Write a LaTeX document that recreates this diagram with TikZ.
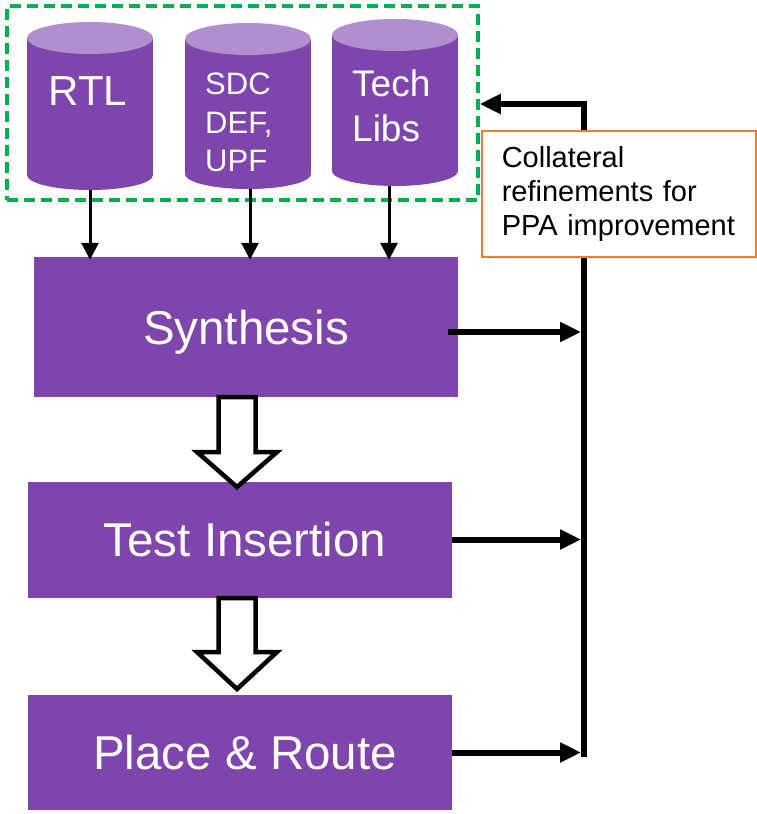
\documentclass[tikz,border=0pt]{standalone}
\usepackage{fontspec}
\setmainfont{Liberation Sans}
\usetikzlibrary{arrows.meta,calc}
\definecolor{drumbody}{RGB}{126,70,172}
\definecolor{drumtop}{RGB}{177,142,206}
\definecolor{groupgreen}{RGB}{0,176,80}
\definecolor{noteorange}{RGB}{237,125,49}

% draws a database drum: centre x, top ellipse y, bottom ellipse y
\newcommand\drawdrum[3]{%
  \fill[drumbody] (#1-63,#2) rectangle (#1+63,#3);
  \fill[drumbody] (#1,#3) ellipse [x radius=63, y radius=15];
  \fill[drumtop] (#1,#2) ellipse [x radius=63, y radius=16];
}
% hollow block arrow pointing down: centre x, top y, head base y, tip y
\newcommand\blockarrow[4]{%
  \draw[hollowarrow] (#1-18.5,#2) -- (#1-18.5,#3) -- (#1-40,#3) -- (#1,#4)
    -- (#1+40,#3) -- (#1+18.5,#3) -- (#1+18.5,#2) -- cycle;
}

\begin{document}
\begin{tikzpicture}[x=1pt,y=-1pt,
  stage/.style={fill=drumbody, text=white, minimum width=424pt, inner sep=0pt,
    text height=34pt, text depth=0pt, font=\fontsize{47.5}{56}\selectfont},
  drumbox/.style={minimum width=126pt, inner sep=0pt},
  drumlabel/.style={text=white, inner sep=0pt, align=left},
  inlet/.style={line width=3pt, -{Triangle[length=17pt,width=17pt]}},
  feed/.style={line width=6pt, line join=miter, -{Triangle[length=21pt,width=19pt]}},
  hollowarrow/.style={draw=black, fill=white, line width=4.5pt, line join=miter},
  group/.style={draw=groupgreen, line width=3.5pt, dash pattern=on 11pt off 6pt,
    minimum width=471pt, minimum height=194pt, inner sep=0pt},
  note/.style={draw=noteorange, line width=1.5pt, fill=white, anchor=north west,
    minimum width=274pt, minimum height=126pt, text width=234pt, inner xsep=20pt,
    align=left, font=\fontsize{29}{34}\selectfont}
]
\useasboundingbox (0,0) rectangle (756,814);

% input databases
\drawdrum{90}{38}{175}
\drawdrum{248}{39}{174}
\drawdrum{395}{35}{171}
\node[drumbox, minimum height=168pt] (rtl) at (90,106) {};
\node[drumbox, minimum height=166pt] (sdc) at (248,106) {};
\node[drumbox, minimum height=167pt] (tech) at (395,102.5) {};
\node[drumlabel, font=\fontsize{42}{50}\selectfont] (rtltext) at (88,91) {RTL};
\node[drumlabel, anchor=west, font=\fontsize{31}{38.5}\selectfont] (sdctext) at (205,122.5) {SDC\\DEF,\\UPF};
\node[drumlabel, anchor=west, font=\fontsize{37}{45}\selectfont] (techtext) at (352,106) {Tech\\Libs};

% dashed group around the inputs
\node[group] (inputs) at (242.5,103) {};

% flow stages
\node[stage, minimum height=140pt] (syn) at (246,327) {Synthesis};
\node[stage, minimum height=116pt] (test) at (240,539.5) {\hspace*{10pt}Test Insertion};
\node[stage, minimum height=115pt] (pr) at (240,752.5) {\hspace*{10pt}Place \& Route};

% inputs feed synthesis
\draw[inlet] (rtl.south) -- ($(rtl.south |- syn.north)+(0,3)$);
\draw[inlet] ([xshift=2pt]sdc.south) -- ($([xshift=2pt]sdc.south |- syn.north)+(0,3)$);
\draw[inlet] ([xshift=-6pt]tech.south) -- ($([xshift=-6pt]tech.south |- syn.north)+(0,3)$);

% stage to stage
\blockarrow{237}{397}{452}{487}
\blockarrow{237}{598}{652}{689}

% feedback bus
\coordinate (bustop) at (584,104);
\coordinate (busbot) at (584,757);
\draw[feed] (busbot) -- (bustop) -- (bustop -| inputs.east);
\draw[feed] ([xshift=-10pt,yshift=-5pt]syn.east) -- ($([yshift=-5pt]syn.east -| bustop)+(-3,0)$);
\draw[feed] (test.east) -- ($(test.east -| bustop)+(-3,0)$);
\draw[feed] (pr.east) -- ($(pr.east -| bustop)+(-3,0)$);

% annotation
\node[note] (refine) at (481,130) {Collateral\\refinements for\\PPA improvement};
\end{tikzpicture}
\end{document}
